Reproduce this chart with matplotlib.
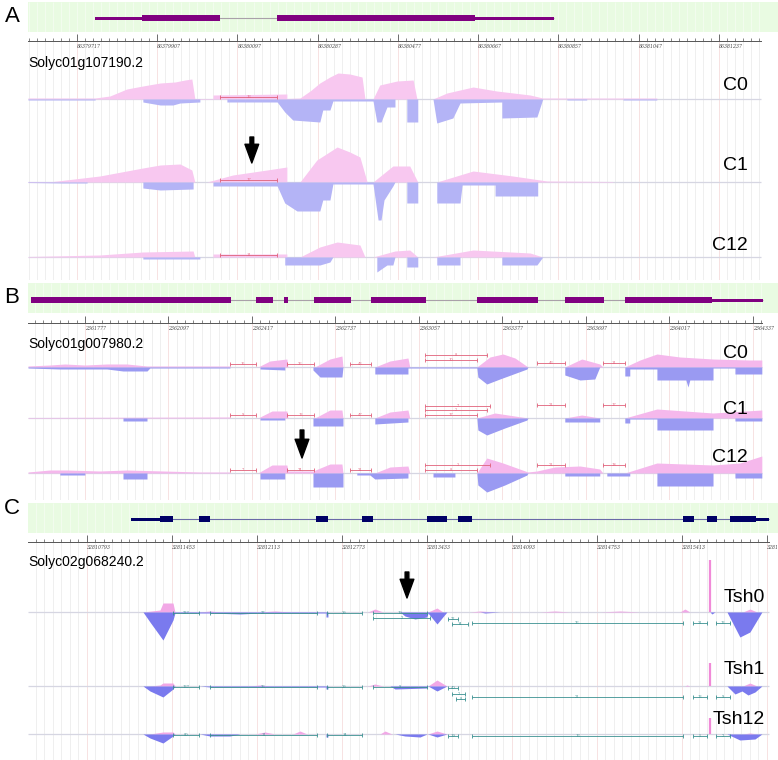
import numpy as np
import matplotlib.pyplot as plt

plt.rcParams['font.family'] = ['Liberation Sans', 'DejaVu Sans']

W, H = 778, 760

# ---------------- panel A : Solyc01g107190.2 (positions in bp from first ruler label) ----------------
A_GENE = 'Solyc01g107190.2'
A_ORIGIN = 86379717
A_STEP = 190
A_TICKS = ['86379717', '86379907', '86380097', '86380287', '86380477',
           '86380667', '86380857', '86381047', '86381237']
A_CDS = [(154, 339), (474, 943)]
A_UTR = [(43, 154), (943, 1130)]
A_NAMES = ['C0', 'C1', 'C12']

A_C0_POS = [(-116, 1), (43, 1), (78, 3), (118, 10), (156, 13), (197, 16), (232, 17), (256, 19), (272, 20),
            (279, 0.5), (322, 0.5), (322, 4), (497, 5), (497, 0.5), (528, 1), (552, 8), (575, 16), (599, 22),
            (618, 26), (646, 25), (675, 22), (682, 0), (701, 0), (717, 14), (758, 18), (796, 19), (805, 0),
            (843, 0), (876, 6), (938, 12), (994, 8), (1073, 4), (1103, 1), (1373, 1), (1373, 0)]
A_C0_NEG = [(-116, 1), (43, 1), (43, 0), (156, 0), (156, 3), (197, 6), (227, 6), (244, 4), (291, 3), (291, 0),
            (355, 0), (355, 3), (474, 3), (492, 13), (511, 21), (575, 23), (582, 11), (599, 11), (606, 2),
            (701, 2), (710, 23), (720, 23), (734, 8), (753, 8), (753, 0), (781, 0), (781, 23), (807, 23),
            (807, 0), (843, 0), (852, 24), (890, 19), (907, 4), (1006, 3), (1006, 19), (1089, 18), (1103, 0),
            (1160, 0), (1160, 1), (1207, 1), (1207, 0), (1293, 0), (1293, 1), (1373, 1), (1373, 0)]
A_C1_POS = [(-116, 0.5), (-57, 0.5), (54, 6), (156, 14), (197, 17), (244, 18), (272, 12), (279, 0), (308, 0),
            (369, 7), (450, 12), (497, 15), (497, 0), (528, 0), (568, 22), (616, 35), (646, 30), (670, 25),
            (687, 0), (701, 0), (748, 16), (788, 16), (807, 0), (852, 0), (938, 11), (1032, 6), (1113, 1),
            (1269, 0.5), (1269, 0)]
A_C1_NEG = [(-116, 0.5), (-33, 1), (24, 1), (24, 0), (156, 0), (156, 6), (197, 8), (275, 7), (275, 0), (322, 0),
            (322, 4), (474, 4), (492, 21), (521, 29), (575, 29), (582, 18), (599, 18), (606, 2), (701, 2),
            (713, 38), (720, 38), (727, 18), (748, 4), (753, 0), (781, 0), (781, 21), (807, 21), (807, 0),
            (852, 0), (852, 21), (907, 21), (912, 3), (990, 3), (990, 14), (1091, 14), (1091, 0)]
A_C12_POS = [(-116, 0.5), (54, 2), (156, 5), (275, 6), (279, 0), (322, 0), (322, 3), (497, 3), (497, 0), (528, 0),
             (575, 10), (616, 15), (670, 12), (682, 0), (701, 0), (753, 6), (788, 7), (807, 0), (843, 0),
             (938, 7), (1073, 4), (1103, 0)]
A_C12_NEG = [(156, 0), (156, 2), (291, 2), (291, 0), (492, 0), (492, 8), (575, 8), (599, 5), (606, 0), (710, 0),
             (710, 15), (734, 8), (748, 8), (753, 0), (781, 0), (781, 10), (807, 10), (807, 0), (852, 0),
             (852, 8), (907, 8), (907, 0), (1006, 0), (1006, 8), (1089, 8), (1103, 0)]
A_JUNC = [[(339, 474, '16', 2)], [(339, 474, '17', 2)], [(339, 474, '11', 2)]]

# ---------------- panel B : Solyc01g007980.2 ----------------
B_GENE = 'Solyc01g007980.2'
B_ORIGIN = 2361777
B_STEP = 320
B_TICKS = ['2361777', '2362097', '2362417', '2362737', '2363057',
           '2363377', '2363697', '2364017', '2364337']
B_CDS = [(-207, 559), (655, 720), (763, 778), (878, 1019), (1096, 1307),
         (1502, 1736), (1839, 1989), (2069, 2403)]
B_UTR = [(2403, 2598)]
B_NAMES = ['C0', 'C1', 'C12']

B_C0_POS = [(-218, 1), (-134, 2), (-77, 3), (0, 2), (84, 3), (161, 3), (238, 1), (556, 1), (556, 0), (663, 0),
            (709, 6), (774, 8), (778, 0), (881, 0), (939, 8), (985, 11), (989, 0), (1111, 0), (1169, 6),
            (1238, 9), (1245, 0), (1502, 0), (1552, 10), (1602, 13), (1648, 9), (1698, 0), (1839, 0),
            (1904, 8), (1973, 3), (1985, 0), (2069, 0), (2127, 7), (2192, 13), (2280, 10), (2407, 8),
            (2548, 7), (2594, 7), (2594, 0)]
B_C0_NEG = [(-218, 1), (-96, 2), (84, 2), (146, 4), (238, 4), (249, 1), (556, 1), (556, 0), (671, 0), (671, 2),
            (766, 3), (766, 0), (874, 0), (874, 3), (901, 10), (985, 10), (989, 0), (1111, 0), (1111, 7),
            (1238, 7), (1238, 1), (1502, 1), (1506, 10), (1540, 17), (1590, 12), (1694, 2), (1698, 0),
            (1839, 0), (1839, 8), (1897, 13), (1954, 12), (1973, 0), (2069, 0), (2069, 9), (2088, 9),
            (2088, 2), (2192, 2), (2192, 13), (2303, 13), (2311, 20), (2318, 13), (2407, 13), (2407, 1),
            (2491, 1), (2491, 7), (2594, 7), (2594, 0)]
B_C1_POS = [(-218, 0.5), (556, 1), (556, 0), (663, 0), (717, 7), (774, 7), (778, 0), (881, 0), (939, 8),
            (985, 8), (989, 0), (1111, 0), (1169, 6), (1238, 8), (1245, 0), (1502, 0), (1571, 5), (1698, 0),
            (1839, 0), (1904, 3), (1973, 0), (2069, 0), (2192, 9), (2407, 5), (2594, 8), (2594, 0)]
B_C1_NEG = [(146, 0), (146, 3), (238, 3), (238, 0), (671, 0), (671, 2), (766, 2), (766, 0), (874, 0), (874, 8),
            (989, 8), (989, 0), (1111, 0), (1111, 6), (1238, 4), (1238, 0), (1502, 0), (1506, 12), (1540, 17),
            (1609, 10), (1694, 2), (1698, 0), (1839, 0), (1839, 4), (1973, 4), (1973, 0), (2069, 0),
            (2069, 5), (2088, 5), (2088, 1), (2192, 1), (2192, 12), (2407, 12), (2407, 0), (2491, 0),
            (2491, 3), (2594, 3), (2594, 0)]
B_C12_POS = [(-218, 1), (-134, 3), (-69, 3), (57, 2), (161, 3), (441, 1), (556, 1), (556, 0), (663, 0),
             (717, 8), (774, 8), (778, 2), (874, 2), (939, 9), (985, 9), (989, 0), (1111, 0), (1169, 6),
             (1238, 7), (1245, 0), (1502, 0), (1540, 15), (1602, 10), (1698, 1), (1732, 2), (1801, 6),
             (1897, 7), (1973, 4), (1985, 0), (2069, 0), (2192, 10), (2407, 8), (2510, 10), (2594, 17),
             (2594, 0)]
B_C12_NEG = [(-96, 0), (-96, 2), (0, 2), (0, 0), (146, 0), (146, 6), (238, 6), (238, 0), (671, 0), (671, 6),
             (766, 6), (766, 0), (874, 0), (874, 14), (989, 14), (989, 0), (1042, 0), (1042, 2), (1092, 2),
             (1111, 6), (1238, 5), (1238, 0), (1334, 0), (1334, 4), (1418, 4), (1418, 0), (1502, 0),
             (1506, 12), (1540, 19), (1609, 12), (1694, 2), (1698, 0), (1839, 0), (1839, 3), (1973, 3),
             (1973, 0), (2000, 0), (2000, 3), (2088, 3), (2088, 0), (2192, 0), (2192, 13), (2407, 13),
             (2407, 0), (2491, 0), (2491, 5), (2594, 5), (2594, 0)]
B_JUNC = [
    [(556, 655, '15', 3), (774, 878, '36', 3), (1015, 1096, '43', 3), (1303, 1540, '8', 12),
     (1303, 1502, '10', 7), (1732, 1839, '46', 4), (1985, 2069, '11', 4)],
    [(556, 655, '9', 3), (774, 878, '13', 3), (1015, 1096, '47', 3), (1303, 1552, '7', 12),
     (1303, 1540, '2', 8), (1303, 1502, '17', 3), (1732, 1839, '21', 13), (1985, 2069, '17', 13)],
    [(556, 655, '7', 3), (774, 878, '74', 3), (1015, 1096, '31', 3), (1303, 1552, '3', 8),
     (1303, 1502, '8', 3), (1732, 1839, '21', 8), (1985, 2069, '18', 8)],
]

# ---------------- panel C : Solyc02g068240.2 ----------------
C_GENE = 'Solyc02g068240.2'
C_ORIGIN = 32810793
C_STEP = 660
C_TICKS = ['32810793', '32811453', '32812113', '32812773', '32813433',
           '32814093', '32814753', '32815413', '32816073']
C_CDS = [(567, 668), (870, 955), (1778, 1871), (2135, 2221), (2640, 2795),
         (2881, 2989), (4628, 4713), (4814, 4892), (4993, 5195)]
C_UTR = [(342, 567), (5195, 5296)]
C_NAMES = ['Tsh0', 'Tsh1', 'Tsh12']

C_T0_POS = [(435, 0), (567, 2), (590, 9), (668, 9), (683, 0), (877, 0), (955, 1), (1033, 0), (1343, 0),
            (1460, 1), (1576, 0), (2182, 0), (2236, 3), (2298, 0), (2648, 0), (2718, 4), (2764, 0), (2974, 0),
            (3052, 1), (3168, 0), (3518, 0), (3634, 1), (3750, 0), (3983, 0), (4139, 1), (4294, 0), (4605, 0),
            (4643, 3), (4682, 0), (5094, 0), (5148, 3), (5203, 0)]
C_T0_NEG = [(435, 0), (489, 10), (590, 28), (668, 8), (683, 1), (955, 1), (1188, 2), (1343, 1), (1856, 1),
            (1856, 5), (1871, 5), (1871, 0), (2430, 0), (2469, 4), (2547, 7), (2640, 5), (2648, 1), (2718, 12),
            (2795, 0), (3052, 0), (3090, 1), (3207, 0), (4838, 0), (4853, 2), (4876, 0), (4970, 0), (5070, 25),
            (5148, 20), (5241, 0)]
C_T1_POS = [(489, 0), (567, 1), (590, 3), (668, 3), (683, 0), (1266, 0), (1343, 1), (1421, 0), (2182, 0),
            (2236, 2), (2298, 0), (2648, 0), (2718, 6), (2795, 0), (4643, 0), (4659, 1), (4682, 0), (5094, 0),
            (5148, 3), (5203, 0)]
C_T1_NEG = [(435, 0), (489, 5), (590, 11), (668, 3), (683, 0), (877, 0), (955, 1), (1654, 1), (1856, 1),
            (1856, 3), (1871, 3), (1871, 0), (2353, 0), (2392, 3), (2640, 2), (2648, 0), (2718, 5), (2795, 0),
            (4970, 0), (5032, 8), (5086, 5), (5133, 9), (5187, 6), (5241, 0)]
C_T12_POS = [(489, 0), (590, 2), (668, 2), (683, 0), (1305, 0), (1382, 2), (1460, 0), (1600, 0), (1654, 3),
             (1708, 0), (2275, 0), (2314, 3), (2368, 0), (2648, 0), (2718, 3), (2795, 0), (5094, 0), (5148, 1),
             (5203, 0)]
C_T12_NEG = [(435, 0), (489, 4), (590, 9), (668, 2), (683, 0), (877, 0), (955, 2), (1110, 2), (1188, 0),
             (1856, 0), (1856, 3), (1871, 3), (1871, 0), (2392, 0), (2469, 2), (2586, 3), (2640, 0), (2648, 0),
             (2718, 3), (2795, 0), (4970, 0), (5070, 6), (5187, 5), (5241, 0)]
C_SPIKE_X = 4838
C_SPIKE_H = [52, 23, 16]
C_JUNC = [
    [(668, 870, '237', 1), (955, 1786, '27', 1), (1864, 2135, '39', 1), (2221, 2640, '19', 1),
     (2221, 2663, '2', 6), (2803, 2881, '32', 7), (2834, 2958, '14', 12), (2989, 4628, '36', 11),
     (4706, 4814, '31', 11), (4884, 4993, '13', 11)],
    [(668, 870, '137', 1), (955, 1786, '26', 1), (1864, 2135, '29', 1), (2221, 2640, '9', 1),
     (2803, 2881, '40', 2), (2834, 2935, '2', 8), (2865, 2935, '8', 13), (2989, 4628, '21', 11),
     (4706, 4814, '13', 11), (4884, 4993, '9', 11)],
    [(668, 870, '80', 1), (955, 1786, '11', 1), (1864, 2135, '14', 1), (2803, 2881, '19', 2),
     (2989, 4628, '16', 2), (4706, 4814, '5', 2), (4884, 4993, '2', 2)],
]

fig = plt.figure(figsize=(W / 100, H / 100), dpi=100)


def rect(left, top, width, height):
    # pixel box -> figure fraction
    return [left / W, 1 - (top + height) / H, width / W, height / H]


def draw_panel(letter, gene, origin, step, minor, span, ruler_end, ticks, cds, utr, names, tracks, juncs,
               lay, gene_col, intron_col, pos_col, neg_col, junc_col, junc_dir, arrow, spikes=None):
    x0, x1 = origin + span[0], origin + span[1]
    majors = origin + np.arange(len(ticks)) * step
    k0 = int(np.ceil(span[0] / minor))
    minors = origin + np.arange(k0 * minor, ruler_end + 1, minor)

    # green band with the gene model
    b0, b1 = lay['band']
    axb = fig.add_axes(rect(28, b0, 750, b1 - b0))
    axb.set_facecolor('#e9fbe2')
    axb.set_xlim(x0, x1)
    axb.set_ylim(b1, b0)
    axb.vlines(minors, b0, b1, color='#f4fdf1', lw=0.6, zorder=0)
    for s in axb.spines.values():
        s.set_visible(False)
    axb.set_xticks([])
    axb.set_yticks([])
    gy = lay['gene_y']
    gstart = min(p[0] for p in cds + utr)
    gend = max(p[1] for p in cds + utr)
    axb.hlines(gy, origin + gstart, origin + gend, color=intron_col, lw=0.8, zorder=2)
    for s, e in cds:
        axb.barh(gy, e - s, left=origin + s, height=6, color=gene_col, zorder=3)
    for s, e in utr:
        axb.barh(gy, e - s, left=origin + s, height=3, color=gene_col, zorder=3)

    # tracks area
    t0, t1 = lay['tracks']
    axt = fig.add_axes(rect(28, t0, 750, t1 - t0))
    axt.set_xlim(x0, x1)
    axt.set_ylim(t1, t0)
    axt.axis('off')
    axt.vlines(minors, t0, t1, color='#ececec', lw=0.6, zorder=0)
    axt.vlines(majors, t0, t1, color='#f8e2e2', lw=0.7, zorder=0)
    for i, (pos, neg) in enumerate(tracks):
        base = lay['bases'][i]
        axt.hlines(base, x0, origin + ruler_end, color='#d6d6e2', lw=0.9, zorder=1)
        px = origin + np.array([p[0] for p in pos])
        ph = np.array([p[1] for p in pos])
        axt.fill_between(px, base, base - ph, color=pos_col, lw=0, zorder=2)
        nx = origin + np.array([p[0] for p in neg])
        nd = np.array([p[1] for p in neg])
        axt.fill_between(nx, base, base + nd, color=neg_col, lw=0, zorder=2)
        if spikes is not None:
            axt.vlines(origin + spikes[0], base, base - spikes[1][i], color='#f08ad8', lw=1.6, zorder=3)
        for s, e, lab, row in juncs[i]:
            y = base - junc_dir * row
            axt.hlines(y, origin + s, origin + e, color=junc_col, lw=0.6, zorder=4)
            axt.vlines([origin + s, origin + e], y - 1.8, y + 1.8, color=junc_col, lw=0.6, zorder=4)
            axt.text(origin + (s + e) / 2, y, lab, fontsize=2.6, color=junc_col, ha='center', va='center',
                     zorder=5, fontfamily='DejaVu Serif')
        fig.text(lay['name_x'] / W, 1 - lay['names_y'][i] / H, names[i], ha='right', va='center',
                 fontsize=14)

    # arrow marking the retained intron
    ax_, ay0, ay1 = arrow
    axt.annotate('', xy=(origin + ax_, ay1), xytext=(origin + ax_, ay0),
                 arrowprops=dict(arrowstyle='simple,head_length=0.75,head_width=0.55,tail_width=0.15',
                                 color='black', mutation_scale=18, shrinkA=0, shrinkB=0), zorder=6)

    # ruler
    ry = lay['ruler']
    axr = fig.add_axes(rect(28, ry - 10, 750, 10))
    axr.patch.set_alpha(0)
    axr.set_xlim(x0, x1)
    for k in ['top', 'left', 'right']:
        axr.spines[k].set_visible(False)
    axr.spines['bottom'].set_bounds(x0, origin + ruler_end)
    axr.spines['bottom'].set_color('#555555')
    axr.spines['bottom'].set_linewidth(0.7)
    axr.set_yticks([])
    axr.set_xticks(majors, labels=ticks, fontsize=3.3, fontstyle='italic', fontfamily='DejaVu Serif',
                   color='#444444')
    axr.set_xticks(minors, minor=True)
    axr.tick_params(axis='x', which='major', direction='in', length=5, width=0.6, color='#555555', pad=2.5)
    axr.tick_params(axis='x', which='minor', direction='in', length=2.5, width=0.5, color='#555555')
    for t in axr.get_xticklabels():
        t.set_ha('left')

    fig.text(12 / W, 1 - lay['letter_y'] / H, letter, ha='center', va='center', fontsize=16)
    fig.text(28 / W, 1 - lay['gene_label_y'] / H, gene, ha='left', va='center', fontsize=10)


draw_panel('A', A_GENE, A_ORIGIN, A_STEP, 19, (-116, 1660), 1619, A_TICKS, A_CDS, A_UTR, A_NAMES,
           [(A_C0_POS, A_C0_NEG), (A_C1_POS, A_C1_NEG), (A_C12_POS, A_C12_NEG)], A_JUNC,
           dict(band=(2, 32), gene_y=18, ruler=41, tracks=(41, 280), bases=[99, 182, 257],
                names_y=[86, 166, 245], name_x=748, letter_y=17, gene_label_y=63),
           '#800080', '#a9a0a9', '#f8c8f0', '#b4b4f6', '#e0607a', 1, (414, 137, 163))

draw_panel('B', B_GENE, B_ORIGIN, B_STEP, 32, (-218, 2656), 2594, B_TICKS, B_CDS, B_UTR, B_NAMES,
           [(B_C0_POS, B_C0_NEG), (B_C1_POS, B_C1_NEG), (B_C12_POS, B_C12_NEG)], B_JUNC,
           dict(band=(283, 313), gene_y=300, ruler=323, tracks=(323, 500), bases=[367, 418, 473],
                names_y=[354, 410, 458], name_x=748, letter_y=297, gene_label_y=344),
           '#800080', '#a9a0a9', '#f5b8ec', '#9a9af2', '#e0607a', 1, (832, 430, 458))

draw_panel('C', C_GENE, C_ORIGIN, C_STEP, 66, (-458, 5366), 5296, C_TICKS, C_CDS, C_UTR, C_NAMES,
           [(C_T0_POS, C_T0_NEG), (C_T1_POS, C_T1_NEG), (C_T12_POS, C_T12_NEG)], C_JUNC,
           dict(band=(503, 533), gene_y=519, ruler=542, tracks=(542, 760), bases=[612, 686, 734],
                names_y=[598, 670, 720], name_x=765, letter_y=509, gene_label_y=562),
           '#000066', '#6a6aa8', '#f2a8e6', '#7a7aee', '#3a9090', -1, (2485, 572, 598),
           spikes=(C_SPIKE_X, C_SPIKE_H))

fig.savefig('out.png', dpi=100)
